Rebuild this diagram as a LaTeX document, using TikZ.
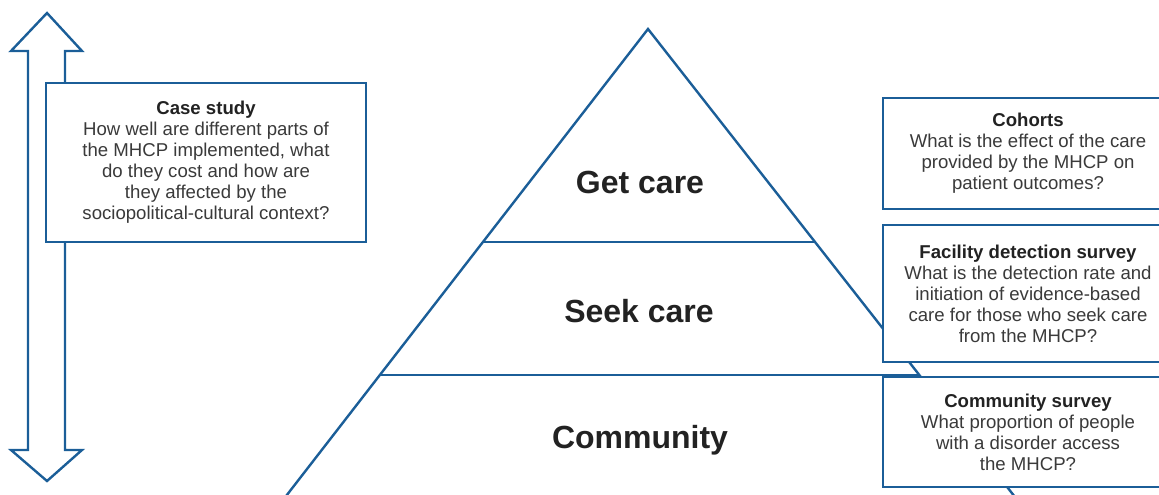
\documentclass[tikz,border=0pt]{standalone}
\usepackage{fontspec}
\setmainfont{Liberation Sans}
\usetikzlibrary{positioning}
\definecolor{mhblue}{HTML}{1B5E98}
\definecolor{mhtext}{HTML}{3A3A3A}
\definecolor{mhhead}{HTML}{222222}

\begin{document}
\begin{tikzpicture}[x=1pt, y=-1pt,
  edge/.style={mhblue, line width=2.4pt, line join=miter},
  qbox/.style={draw=mhblue, line width=2.4pt, fill=white, align=center, inner sep=0pt,
    font=\fontsize{18.6}{21}\selectfont, text=mhtext},
  level/.style={anchor=base, font=\fontsize{32}{38}\selectfont\bfseries, text=mhhead}]
\useasboundingbox (0,0) rectangle (1159,495);
\clip (0,0) rectangle (1159,495);

% Double-headed arrow on the left
\draw[edge] (47,13) -- (82,51) -- (65,51) -- (65,450) -- (82,450) -- (47,481)
  -- (11,450) -- (28,450) -- (28,51) -- (11,51) -- cycle;

% Pyramid
\coordinate (apex) at (648,29);
\coordinate (lb) at (267.5,520);
\coordinate (rb) at (1033,520);
\coordinate (gl) at (483,242);
\coordinate (gr) at (815,242);
\coordinate (sl) at (380,375);
\coordinate (sr) at (919,375);
\draw[edge] (lb) -- (apex) -- (rb);
\draw[edge] (gl) -- (gr);
\draw[edge] (sl) -- (sr);

% Levels
\node[level] (getcare) at (640,193) {Get care};
\node[level] (seekcare) at (639,322) {Seek care};
\node[level] (community) at (640,448) {Community};

% Question boxes
\node[qbox, minimum width=320pt, minimum height=159pt] (casestudy) at (206,162.5)
  {{\bfseries\color{mhhead}Case study}\\How well are different parts of\\the MHCP implemented, what\\do they cost and how are\\they affected by the\\sociopolitical-cultural context?};
\node[qbox, minimum width=290pt, minimum height=111pt] (cohorts) at (1028,153.5)
  {{\bfseries\color{mhhead}Cohorts}\\What is the effect of the care\\provided by the MHCP on\\patient outcomes?};
\node[qbox, minimum width=290pt, minimum height=137pt] (facility) at (1028,293.5)
  {{\bfseries\color{mhhead}Facility detection survey}\\What is the detection rate and\\initiation of evidence-based\\care for those who seek care\\from the MHCP?};
\node[qbox, minimum width=290pt, minimum height=110pt] (commsurvey) at (1028,432)
  {{\bfseries\color{mhhead}Community survey}\\What proportion of people\\with a disorder access\\the MHCP?};

\end{tikzpicture}
\end{document}
